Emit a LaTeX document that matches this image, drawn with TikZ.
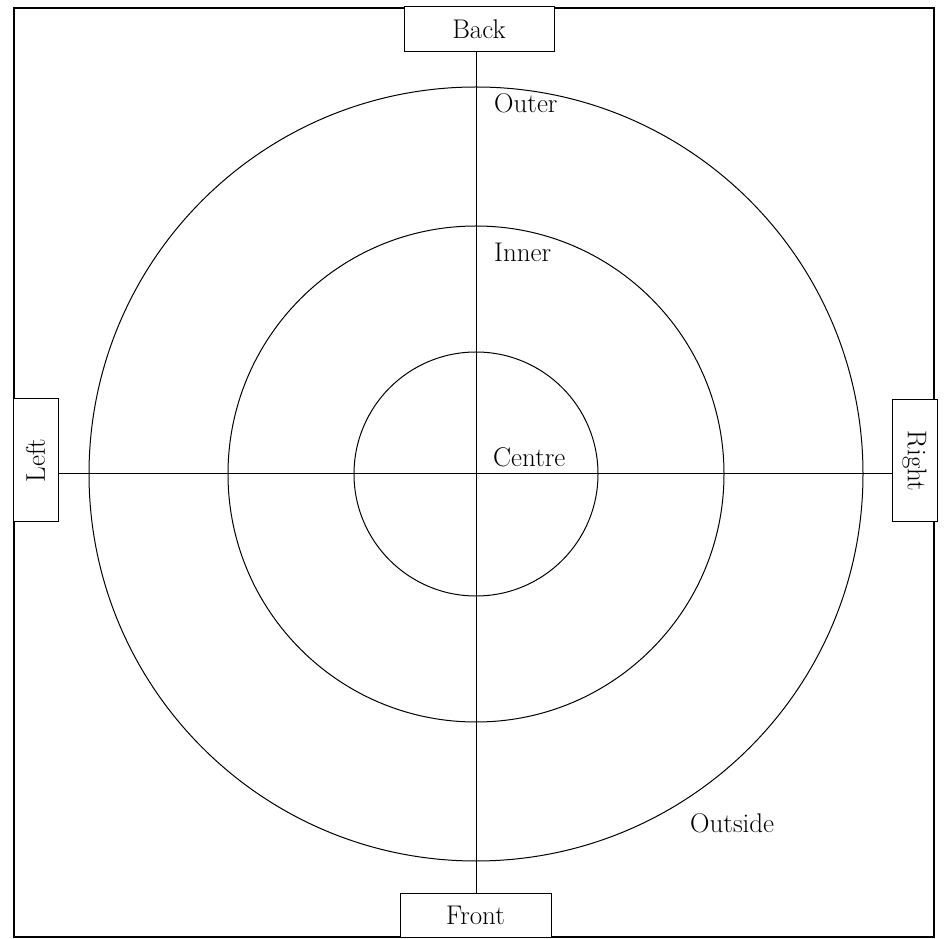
\documentclass[tikz,border=0pt]{standalone}
\usepackage{tikz}
\usetikzlibrary{positioning, calc}

\begin{document}
\begin{tikzpicture}[
    x=1pt, y=1pt,
    font=\fontsize{27pt}{30pt}\selectfont,
    box/.style={rectangle, draw=black, line width=1pt, fill=white, inner sep=0pt, text centered},
    ring/.style={draw=black, line width=1pt},
    area/.style={anchor=base west, inner sep=0pt}
]
    \useasboundingbox (0,0) rectangle (945,938);
    \draw [line width=1.2pt] (14,1) rectangle (934,930);

    \coordinate (ctr) at (476,464);

    % rings
    \draw [ring] (ctr) circle (122pt);
    \draw [ring] (ctr) circle (248pt);
    \draw [ring] (ctr) circle (387pt);

    % sides
    \node (back) [box, minimum width=150pt, minimum height=45pt] at (479,908.5) {Back};
    \node (front) [box, minimum width=151pt, minimum height=44pt] at (475.5,23) {Front};
    \node (left) [box, minimum width=45pt, minimum height=123pt] at (35.5,477.5) {\rotatebox{90}{Left}};
    \node (right) [box, minimum width=45pt, minimum height=122pt] at (914.5,477) {\rotatebox{-90}{Right}};

    \draw [line width=1pt] (back.south -| ctr) -- (front.north -| ctr);
    \draw [line width=1pt] (left.east |- ctr) -- (right.west |- ctr);

    % labels
    \node (outer) [area] at (494,825) {Outer};
    \node (inner) [area] at (494,676) {Inner};
    \node (centre) [area] at (493,471) {Centre};
    \node (outside) [area] at (690,106) {Outside};
\end{tikzpicture}
\end{document}
